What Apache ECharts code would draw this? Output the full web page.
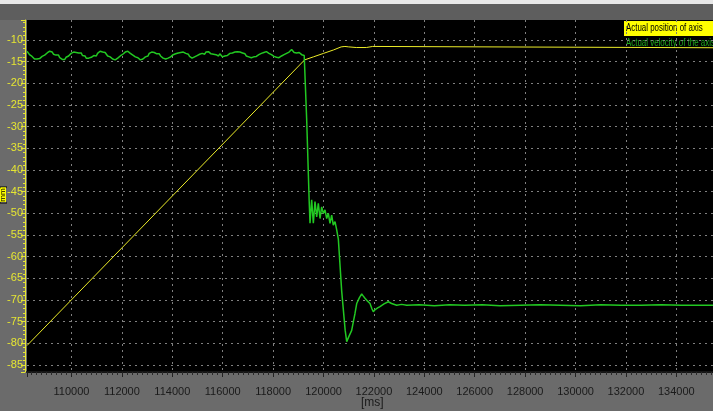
<!DOCTYPE html>
<html><head><meta charset="utf-8">
<script src="https://cdn.jsdelivr.net/npm/echarts@6/dist/echarts.min.js"></script>
<style>html,body{margin:0;padding:0;background:#6b6b6b;overflow:hidden}#c{width:713px;height:411px}</style>
</head><body><div id="c"></div><script>
// Actual position of axis (yellow)
const posTime  = [108234, 119250, 119600, 120000, 120400, 120700, 120850, 121000, 121300, 121700, 121750, 121950, 122000, 135455];
const posValue = [-80.5,  -14.6,  -13.9,  -13.1,  -12.3,  -11.6,  -11.5,  -11.6,  -11.75, -11.75, -11.5,  -11.5,  -11.8,  -11.8];

// Actual velocity of the axis (green) – steady part, sampled every 50 ms from the left edge
const velFlatStart = 108234;
const velFlatStep = 50;
const velFlatValue = [
 -12.6,-13.0,-13.4,-13.1,-13.8,-14.2,-14.4,-14.0,-14.4,-14.6,
 -14.3,-14.1,-13.8,-14.1,-13.5,-13.1,-13.0,-13.2,-12.6,-12.9,
 -12.8,-13.3,-13.0,-13.5,-13.8,-13.5,-14.1,-14.4,-14.5,-14.1,
 -14.5,-14.0,-14.3,-13.7,-13.7,-13.1,-13.3,-12.8,-12.6,-12.9,
 -12.6,-13.0,-13.3,-13.0,-13.6,-14.0,-13.7,-14.2,-14.6,-14.2,
 -14.4,-14.0,-14.1,-13.6,-13.5,-13.7,-13.1,-12.9,-12.6,-12.9,
 -12.8,-13.2,-12.9,-13.3,-13.7,-13.4,-13.9,-14.3,-14.4,-14.2,
 -14.6,-14.3,-14.2,-14.4,-13.7,-13.6,-13.3,-13.1,-12.8,-12.7,
 -12.6,-13.0,-13.1,-12.9,-13.5,-13.3,-13.9,-14.2,-14.1,-14.4,
 -14.6,-14.2,-14.4,-14.0,-13.9,-13.5,-13.7,-13.1,-13.0,-12.8,
 -12.6,-12.9,-12.7,-13.2,-13.5,-13.2,-13.7,-14.0,-14.2,-13.9,
 -14.4,-14.1,-14.2,-14.3,-13.9,-13.8,-13.4,-13.6,-13.2,-13.1,
 -13.0,-12.7,-12.9,-12.5,-12.8,-13.2,-13.1,-13.5,-13.3,-13.8,
 -13.9,-14.2,-14.1,-13.9,-14.1,-13.6,-13.7,-13.3,-13.5,-13.1,
 -13.1,-13.3,-12.8,-13.0,-12.7,-12.9,-13.2,-12.9,-13.3,-13.1,
 -13.4,-13.6,-13.7,-13.2,-13.4,-13.9,-13.5,-13.7,-13.3,-13.6,
 -13.5,-13.1,-13.3,-13.0,-13.0,-12.8,-13.1,-12.7,-12.9,-12.8,
 -13.1,-13.0,-13.4,-13.2,-13.7,-13.4,-13.9,-13.7,-14.1,-13.8,
 -13.9,-14.0,-13.8,-13.6,-13.4,-13.5,-13.1,-13.3,-12.9,-13.1,
 -12.7,-12.9,-13.1,-13.2,-13.4,-13.5,-13.8,-13.6,-14.0,-14.2,
 -14.1,-13.9,-13.7,-13.6,-13.4,-13.3,-13.1,-13.0,-12.8,-12.7,
 -12.2,-12.6,-12.9,-12.6,-13.0,-12.8,-12.9,-13.1,-13.4,-13.1,
 -13.6
];
// Actual velocity of the axis (green) – drop and settling part
const velTime = [
 119330,119397,119430,119464,119530,119596,119662,119729,119794,
 119861,119927,119992,120059,120126,120190,120257,120324,120388,120456,
 120523,120589,120722,120860,120920,121000,121118,121200,121249,121317,
 121420,121515,121580,121646,121740,121845,121920,121976,122050,122150,
 122241,122400,122571,122700,122904,123100,123301,123800,124400,125000,
 125600,126300,127000,127800,128600,129400,130200,131000,131800,132600,
 133400,134200,135000,135455
];
const velValue = [
 -28.0,-40.7,-47.0,-52.3,-46.9,-52.3,-47.3,-50.8,-47.7,
 -51.2,-48.5,-50.0,-49.2,-51.2,-50.0,-52.3,-50.4,-52.7,-51.9,
 -53.8,-56.0,-68.0,-77.0,-79.6,-78.5,-77.0,-74.5,-73.1,-70.8,
 -69.5,-68.6,-69.1,-69.6,-70.2,-70.8,-72.0,-72.7,-72.2,-71.8,
 -71.5,-70.9,-70.4,-70.8,-71.2,-71.0,-71.2,-71.1,-71.3,-71.1,
 -71.2,-71.1,-71.3,-71.2,-71.1,-71.2,-71.3,-71.1,-71.2,-71.2,
 -71.1,-71.2,-71.2,-71.2
];

const xMin = 108234, xMax = 135455;
const yMin = -86.6, yMax = -5.4;

const velData = velFlatValue.map((v, i) => [velFlatStart + i * velFlatStep, v])
  .concat(velTime.map((t, i) => [t, velValue[i]]));

const chart = echarts.init(document.getElementById('c'), null, {renderer: 'canvas'});
const font = '"Liberation Sans", Arial, sans-serif';
chart.setOption({
  animation: false,
  backgroundColor: '#6b6b6b',
  grid: {left: 27, top: 20, right: 0, bottom: 39, show: true, backgroundColor: '#000000', borderWidth: 0, containLabel: false},
  xAxis: {
    type: 'value', min: xMin, max: xMax, splitNumber: 13,
    axisLine: {show: true, onZero: false, lineStyle: {color: '#151515', width: 2}},
    axisTick: {show: true, length: 5, lineStyle: {color: '#222'}},
    minorTick: {show: true, splitNumber: 10, length: 3, lineStyle: {color: '#2a2a2a'}},
    axisLabel: {color: '#1a1a1a', fontSize: 11, fontFamily: font, margin: 14, showMinLabel: false, showMaxLabel: false,
      formatter: v => String(v)},
    splitLine: {show: true, showMinLine: false, showMaxLine: false, lineStyle: {color: '#808080', type: [2, 4], width: 1}}
  },
  yAxis: {
    type: 'value', min: yMin, max: yMax, splitNumber: 16, offset: 2,
    axisLine: {show: true, onZero: false, lineStyle: {color: '#e6e632', width: 1}},
    axisTick: {show: true, length: 4, lineStyle: {color: '#e6e632'}},
    minorTick: {show: true, splitNumber: 5, length: 2, lineStyle: {color: '#e6e632'}},
    axisLabel: {color: '#e6e632', fontSize: 11, fontFamily: font, margin: 2, showMinLabel: false, showMaxLabel: false},
    splitLine: {show: true, showMinLine: false, showMaxLine: false, lineStyle: {color: '#808080', type: [2, 4], width: 1}}
  },
  series: [
    {name: 'Actual position of axis', type: 'line', showSymbol: false, sampling: 'none',
     lineStyle: {color: '#ecec28', width: 1}, itemStyle: {color: '#ecec28'},
     data: posTime.map((t, i) => [t, posValue[i]])},
    {name: 'Actual velocity of the axis', type: 'line', showSymbol: false, sampling: 'none',
     lineStyle: {color: '#22c822', width: 1.5}, itemStyle: {color: '#22c822'},
     data: velData}
  ],
  graphic: [
    {type: 'rect', left: 0, top: 0, shape: {width: 713, height: 4}, style: {fill: '#e8e8e8'}, silent: true},
    {type: 'rect', left: 0, top: 4, shape: {width: 713, height: 16}, style: {fill: '#5e5e5e'}, silent: true},
    {type: 'rect', left: 624, top: 21, shape: {width: 89, height: 15}, style: {fill: '#ffff00'}, silent: true},
    {type: 'text', x: 626, y: 22, scaleX: 0.72, style: {text: 'Actual position of axis', fill: '#000', font: '11px ' + font, verticalAlign: 'top'}, silent: true},
    {type: 'text', x: 626, y: 37, scaleX: 0.72, style: {text: 'Actual velocity of the axis', fill: '#1ea81e', font: '11px ' + font, verticalAlign: 'top'}, silent: true},
    {type: 'rect', left: 0, top: 187, shape: {width: 6, height: 15}, style: {fill: '#ffff00'}, silent: true},
    {type: 'text', x: 3, y: 195, rotation: Math.PI / 2, style: {text: '[mm]', fill: '#000', font: '8px ' + font, align: 'center', verticalAlign: 'middle'}, silent: true},
    {type: 'text', left: 361, top: 397, style: {text: '[ms]', fill: '#1a1a1a', font: '12px ' + font}, silent: true}
  ]
});
</script></body></html>
